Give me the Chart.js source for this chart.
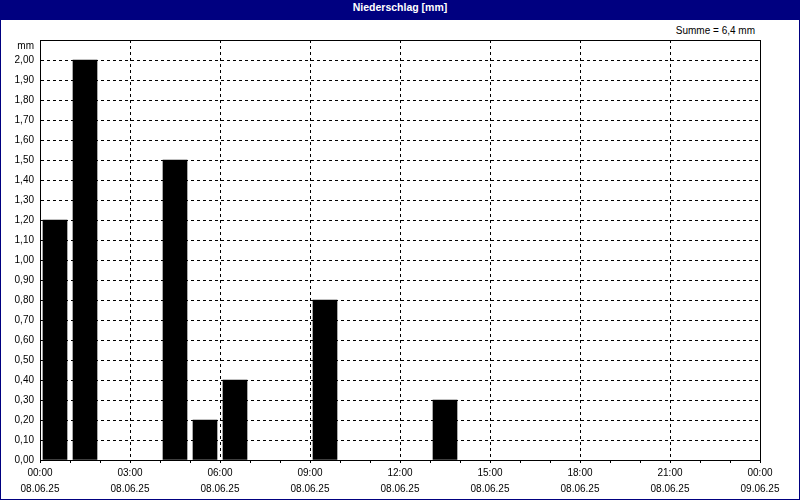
<!DOCTYPE html>
<html>
<head>
<meta charset="utf-8">
<script src="https://cdn.jsdelivr.net/npm/chart.js@4/dist/chart.umd.min.js"></script>
<style>
  html, body { margin: 0; padding: 0; background: #fff; }
  #frame { position: relative; width: 800px; height: 500px; box-sizing: border-box; border: 1px solid #000080; background: #fff; }
  #title { height: 19px; line-height: 18px; background: #000080; color: #fff; font: bold 10.5px "Liberation Sans", Arial, sans-serif; text-align: center; }
  #sum { position: absolute; right: 44px; top: 24px; line-height: 12px; font: 10px "Liberation Sans", Arial, sans-serif; color: #000; }
  #wrap { position: absolute; left: 0; top: 19px; width: 798px; height: 479px; }
</style>
</head>
<body>
<div id="frame">
  <div id="title">Niederschlag [mm]</div>
  <div id="sum"></div>
  <div id="wrap"><canvas id="chart" width="798" height="479"></canvas></div>
</div>
<script>
// hourly precipitation, hour of day (start of interval) and mm
const rainHours = [0, 1, 4, 5, 6, 9, 13];
const rainMm = [1.2, 2.0, 1.5, 0.2, 0.4, 0.8, 0.3];

// labels under every third hour
const timeLabels = ["00:00", "03:00", "06:00", "09:00", "12:00", "15:00", "18:00", "21:00", "00:00"];
const dateLabels = ["08.06.25", "08.06.25", "08.06.25", "08.06.25", "08.06.25", "08.06.25", "08.06.25", "08.06.25", "09.06.25"];

const unitLabel = "mm";
const yMax = 2.1;

const total = rainMm.reduce((a, b) => a + b, 0);
document.getElementById("sum").textContent = "Summe = " + total.toFixed(1).replace(".", ",") + " mm";

const font = { family: "'Liberation Sans', Arial, sans-serif", size: 10 };

// solid frame round the plot area (top and right sides)
const framePlugin = {
  id: "frame",
  afterDraw(chart) {
    const a = chart.chartArea;
    const ctx = chart.ctx;
    ctx.save();
    ctx.strokeStyle = "#000";
    ctx.lineWidth = 1;
    ctx.strokeRect(a.left + 0.5, a.top + 0.5, a.right - a.left, a.bottom - a.top);
    ctx.restore();
  }
};

new Chart(document.getElementById("chart"), {
  type: "bar",
  data: {
    datasets: [{
      data: rainHours.map((h, i) => ({ x: h + 0.5, y: rainMm[i] })),
      backgroundColor: "#000",
      borderWidth: 0,
      barThickness: 24
    }]
  },
  plugins: [framePlugin],
  options: {
    responsive: false,
    animation: false,
    layout: { padding: { left: 0, top: 20, right: 39, bottom: 0 } },
    plugins: { legend: { display: false }, tooltip: { enabled: false } },
    scales: {
      x: {
        type: "linear",
        min: 0,
        max: 24,
        offset: false,
        afterFit: (s) => { s.height = 39; },
        ticks: {
          stepSize: 1,
          autoSkip: false,
          maxRotation: 0,
          padding: 2,
          color: "#000",
          font: { ...font, lineHeight: 1.6 },
          callback: (v) => v % 3 === 0 ? [timeLabels[v / 3], dateLabels[v / 3]] : ""
        },
        grid: {
          offset: false,
          color: (c) => (c.tick && c.tick.value % 3 === 0) ? "#000" : "rgba(0,0,0,0)",
          tickColor: "#000",
          tickLength: 3,
          lineWidth: 1
        },
        border: { display: true, color: "#000", width: 1, dash: [3, 3] }
      },
      y: {
        min: 0,
        max: yMax,
        afterFit: (s) => { s.width = 39; },
        ticks: {
          stepSize: 0.1,
          autoSkip: false,
          padding: 6,
          color: "#000",
          font: font,
          callback: (v) => Math.abs(v - yMax) < 1e-6 ? ["", unitLabel] : v.toFixed(2).replace(".", ",")
        },
        grid: { color: "#000", drawTicks: false, lineWidth: 1 },
        border: { display: true, color: "#000", width: 1, dash: [3, 3] }
      }
    }
  }
});
</script>
</body>
</html>
